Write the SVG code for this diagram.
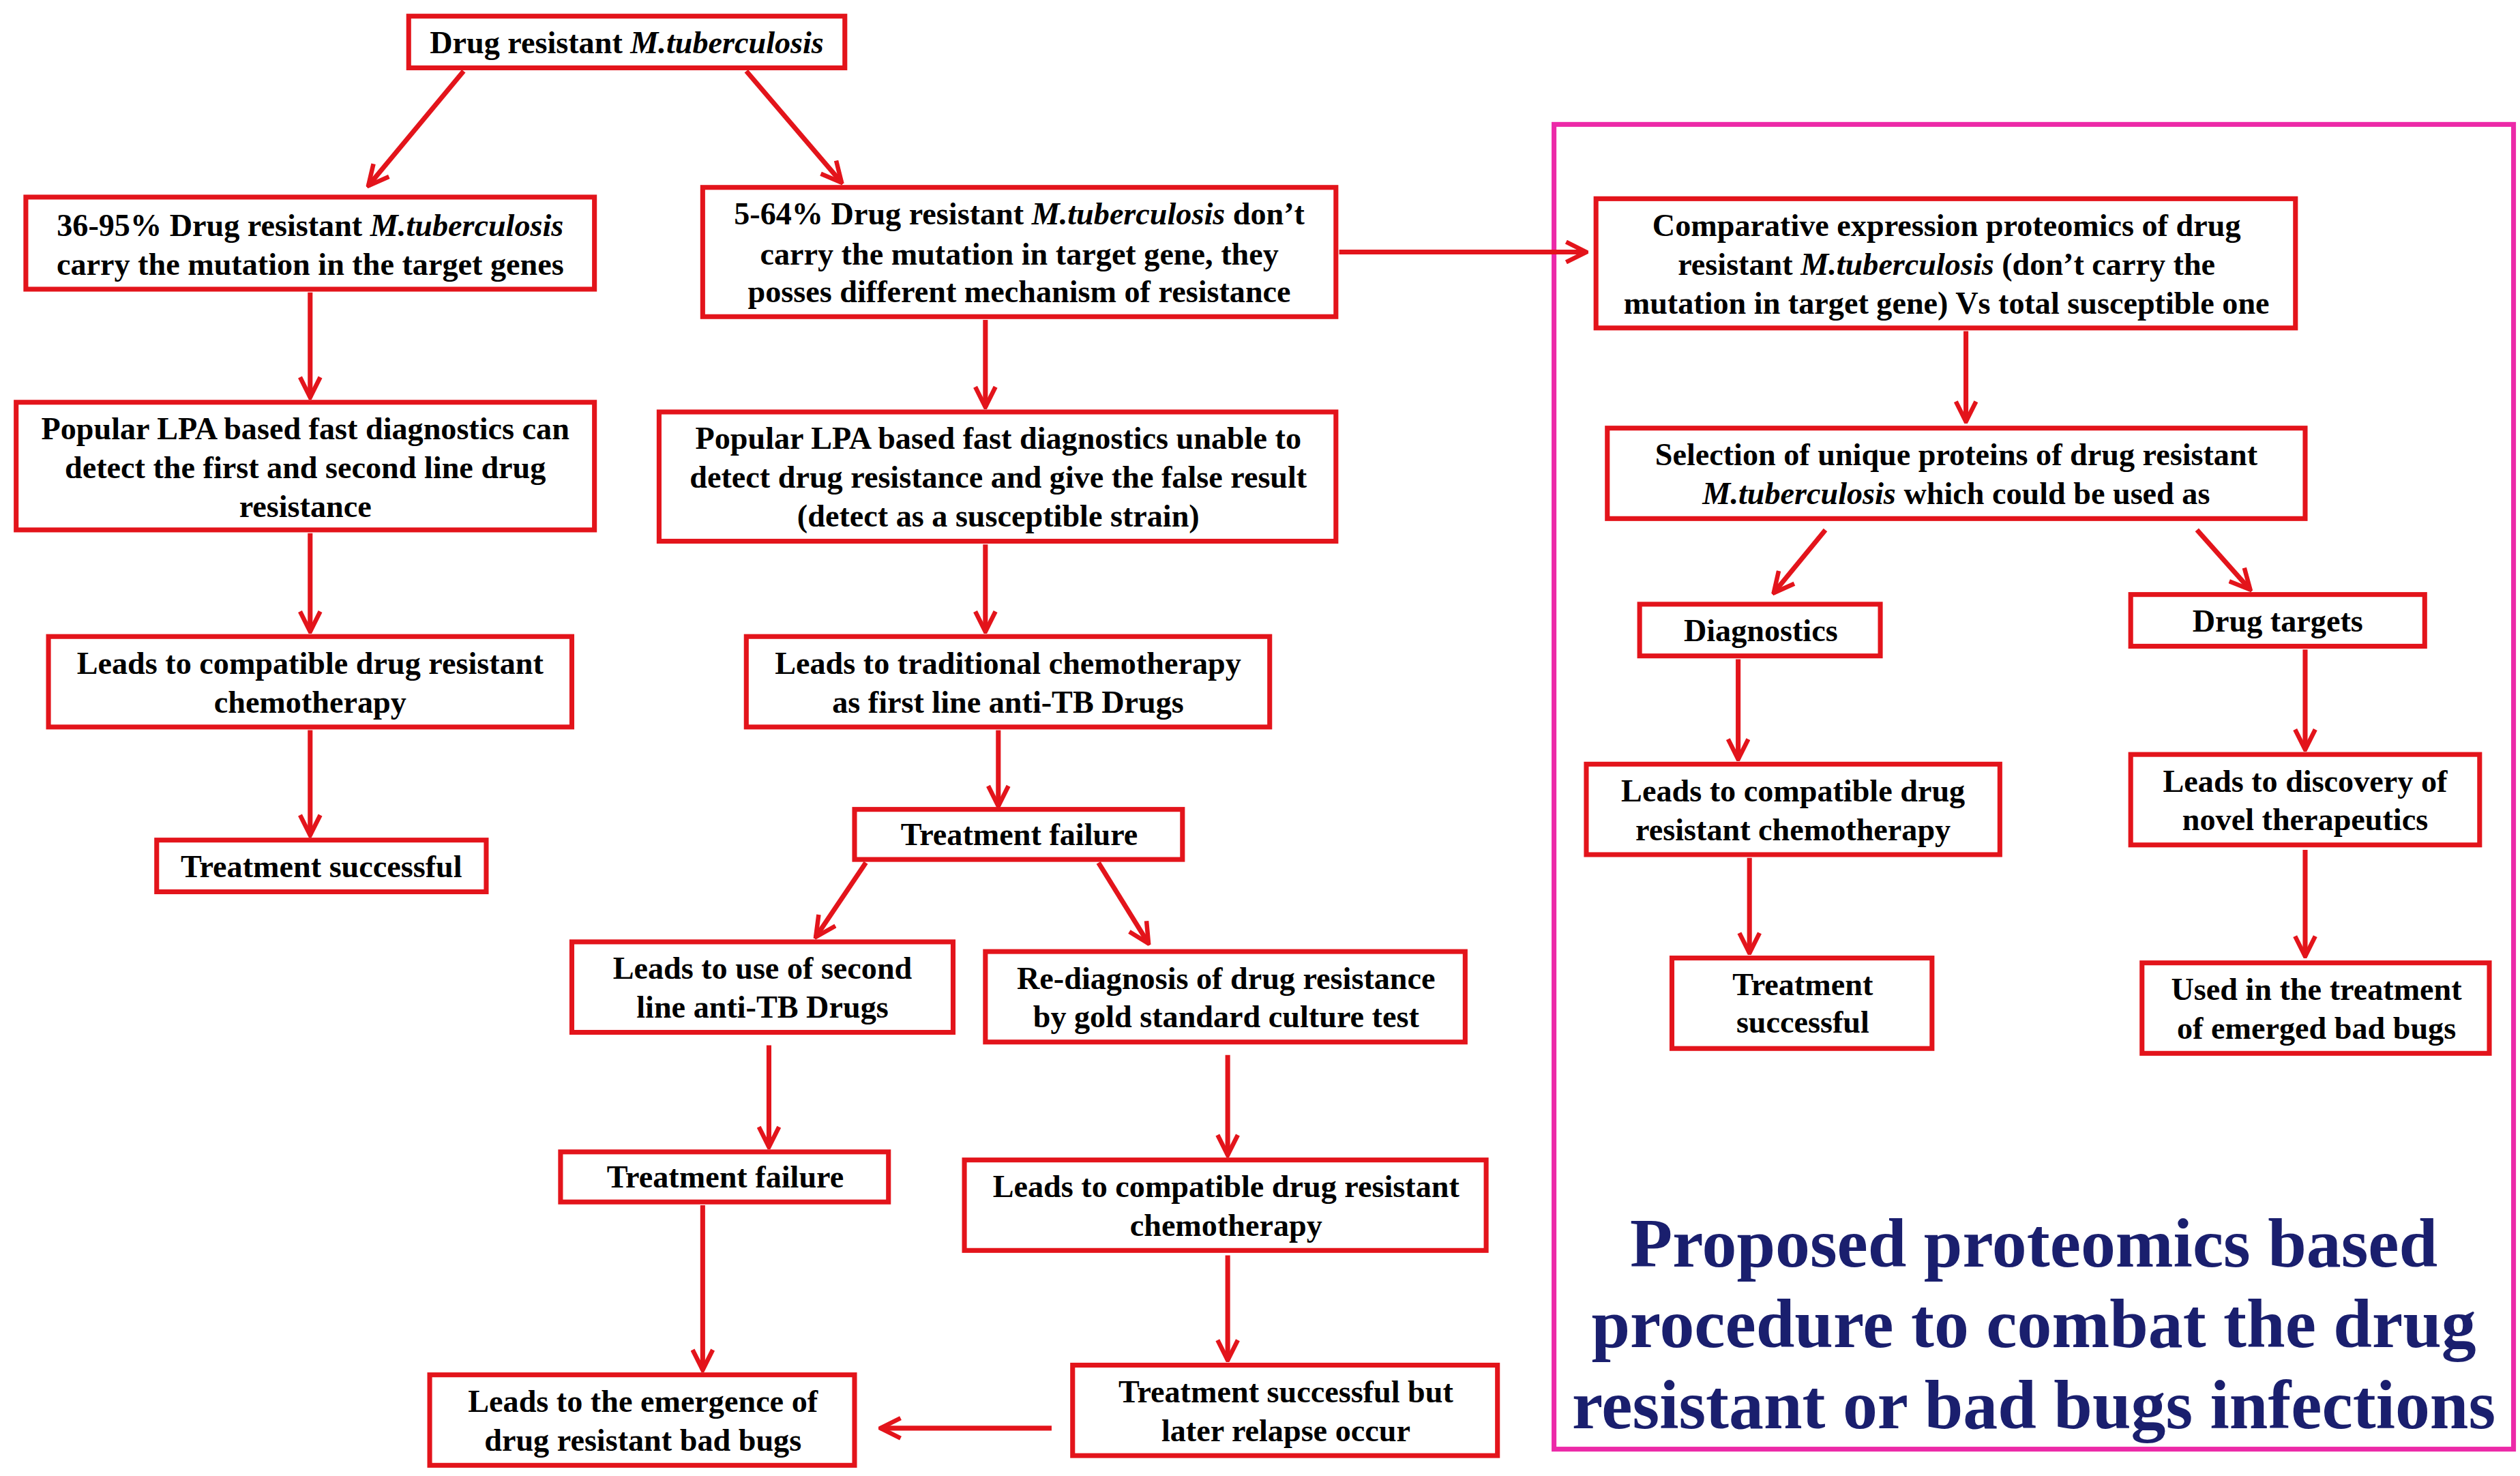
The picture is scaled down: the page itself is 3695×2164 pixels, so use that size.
<svg xmlns="http://www.w3.org/2000/svg" width="3695" height="2164" viewBox="0 0 3695 2164">
<style>
.b{fill:#fff;stroke:#e3141b;stroke-width:3}
.t{font-family:"Liberation Serif",serif;font-weight:bold;font-size:19.5px;fill:#000;text-anchor:middle}
.i{font-style:italic}
.c line{stroke:#e3141b;stroke-width:3;marker-end:url(#a)}
.ttl{font-family:"Liberation Serif",serif;font-weight:bold;font-size:43px;fill:#1a1f6e;text-anchor:middle}
</style>
<defs><marker id="a" viewBox="0 0 12 12" refX="11" refY="6" markerWidth="5" markerHeight="5" orient="auto" markerUnits="strokeWidth"><path d="M1,1 L11,6 L1,11" fill="none" stroke="#e3141b" stroke-width="2.2"/></marker></defs>
<rect width="3695" height="2164" fill="#fff"/>
<g transform="scale(2.3686)">
<rect x="962" y="77" width="594" height="820" fill="none" stroke="#ec2aa8" stroke-width="3"/>
<g id="n1"><rect class="b" x="253" y="10" width="270" height="32"/><text class="t" x="388" y="33">Drug resistant <tspan class="i">M.tuberculosis</tspan></text></g>
<g id="n2"><rect class="b" x="16" y="122" width="352" height="57"/><text class="t" x="192" y="146">36-95% Drug resistant <tspan class="i">M.tuberculosis</tspan></text><text class="t" x="192" y="170">carry the mutation in the target genes</text></g>
<g id="n3"><rect class="b" x="435" y="116" width="392" height="80"/><text class="t" x="631" y="139">5-64% Drug resistant <tspan class="i">M.tuberculosis</tspan> don’t</text><text class="t" x="631" y="164">carry the mutation in target gene, they</text><text class="t" x="631" y="187">posses different mechanism of resistance</text></g>
<g id="n4"><rect class="b" x="988" y="123" width="433" height="80"/><text class="t" x="1205" y="146">Comparative expression proteomics of  drug</text><text class="t" x="1205" y="170">resistant <tspan class="i">M.tuberculosis</tspan> (don’t carry the</text><text class="t" x="1205" y="194">mutation in target gene) Vs total susceptible one</text></g>
<g id="n5"><rect class="b" x="10" y="249" width="358" height="79"/><text class="t" x="189" y="272">Popular LPA based fast diagnostics can</text><text class="t" x="189" y="296">detect the first and second line drug</text><text class="t" x="189" y="320">resistance</text></g>
<g id="n6"><rect class="b" x="408" y="255" width="419" height="80"/><text class="t" x="618" y="278">Popular LPA based fast diagnostics unable to</text><text class="t" x="618" y="302">detect drug resistance and give the false result</text><text class="t" x="618" y="326">(detect as a susceptible strain)</text></g>
<g id="n7"><rect class="b" x="995" y="265" width="432" height="56"/><text class="t" x="1211" y="288">Selection of unique proteins of  drug resistant</text><text class="t" x="1211" y="312"><tspan class="i">M.tuberculosis</tspan> which could be used as</text></g>
<g id="n8"><rect class="b" x="1015" y="374" width="149" height="32"/><text class="t" x="1090" y="397">Diagnostics</text></g>
<g id="n9"><rect class="b" x="1319" y="368" width="182" height="32"/><text class="t" x="1410" y="391">Drug targets</text></g>
<g id="n10"><rect class="b" x="30" y="394" width="324" height="56"/><text class="t" x="192" y="417">Leads to compatible  drug resistant</text><text class="t" x="192" y="441">chemotherapy</text></g>
<g id="n11"><rect class="b" x="462" y="394" width="324" height="56"/><text class="t" x="624" y="417">Leads to traditional chemotherapy</text><text class="t" x="624" y="441">as first line anti-TB  Drugs</text></g>
<g id="n12"><rect class="b" x="982" y="473" width="256" height="56"/><text class="t" x="1110" y="496">Leads to compatible  drug</text><text class="t" x="1110" y="520">resistant chemotherapy</text></g>
<g id="n13"><rect class="b" x="1319" y="467" width="216" height="56"/><text class="t" x="1427" y="490">Leads to discovery of</text><text class="t" x="1427" y="514">novel therapeutics</text></g>
<g id="n14"><rect class="b" x="97" y="520" width="204" height="32"/><text class="t" x="199" y="543">Treatment successful</text></g>
<g id="n15"><rect class="b" x="529" y="501" width="203" height="31"/><text class="t" x="631" y="523">Treatment failure</text></g>
<g id="n16"><rect class="b" x="354" y="583" width="236" height="56"/><text class="t" x="472" y="606">Leads to use of second</text><text class="t" x="472" y="630">line anti-TB  Drugs</text></g>
<g id="n17"><rect class="b" x="610" y="589" width="297" height="56"/><text class="t" x="759" y="612">Re-diagnosis of drug resistance</text><text class="t" x="759" y="636">by gold standard culture test</text></g>
<g id="n18"><rect class="b" x="1035" y="593" width="161" height="56"/><text class="t" x="1116" y="616">Treatment</text><text class="t" x="1116" y="639">successful</text></g>
<g id="n19"><rect class="b" x="1326" y="596" width="215" height="56"/><text class="t" x="1434" y="619">Used in the treatment</text><text class="t" x="1434" y="643">of emerged bad bugs</text></g>
<g id="n20"><rect class="b" x="347" y="713" width="203" height="31"/><text class="t" x="449" y="735">Treatment failure</text></g>
<g id="n21"><rect class="b" x="597" y="718" width="323" height="56"/><text class="t" x="759" y="741">Leads to compatible  drug resistant</text><text class="t" x="759" y="765">chemotherapy</text></g>
<g id="n22"><rect class="b" x="266" y="851" width="263" height="56"/><text class="t" x="398" y="874">Leads to the emergence of</text><text class="t" x="398" y="898">drug resistant bad bugs</text></g>
<g id="n23"><rect class="b" x="664" y="845" width="263" height="56"/><text class="t" x="796" y="868">Treatment successful but</text><text class="t" x="796" y="892">later relapse occur</text></g>
<g id="title"><text class="ttl" x="1259" y="784">Proposed proteomics  based</text><text class="ttl" x="1259" y="834">procedure to combat the drug</text><text class="ttl" x="1259" y="884">resistant or bad bugs infections</text></g>
<g class="c">
<line x1="287" y1="44" x2="228" y2="115"/>
<line x1="462" y1="44" x2="521" y2="113"/>
<line x1="192" y1="181" x2="192" y2="246"/>
<line x1="829" y1="156" x2="982" y2="156"/>
<line x1="610" y1="198" x2="610" y2="252"/>
<line x1="1217" y1="205" x2="1217" y2="261"/>
<line x1="192" y1="330" x2="192" y2="391"/>
<line x1="610" y1="337" x2="610" y2="391"/>
<line x1="1130" y1="328" x2="1098" y2="367"/>
<line x1="1360" y1="328" x2="1393" y2="365"/>
<line x1="192" y1="452" x2="192" y2="517"/>
<line x1="618" y1="452" x2="618" y2="499"/>
<line x1="1076" y1="408" x2="1076" y2="470"/>
<line x1="1427" y1="402" x2="1427" y2="464"/>
<line x1="536" y1="534" x2="505" y2="580"/>
<line x1="680" y1="534" x2="711" y2="584"/>
<line x1="1083" y1="531" x2="1083" y2="590"/>
<line x1="1427" y1="526" x2="1427" y2="592"/>
<line x1="476" y1="647" x2="476" y2="710"/>
<line x1="760" y1="653" x2="760" y2="715"/>
<line x1="435" y1="746" x2="435" y2="848"/>
<line x1="760" y1="777" x2="760" y2="842"/>
<line x1="651" y1="884" x2="545" y2="884"/>
</g>
</g>
</svg>
